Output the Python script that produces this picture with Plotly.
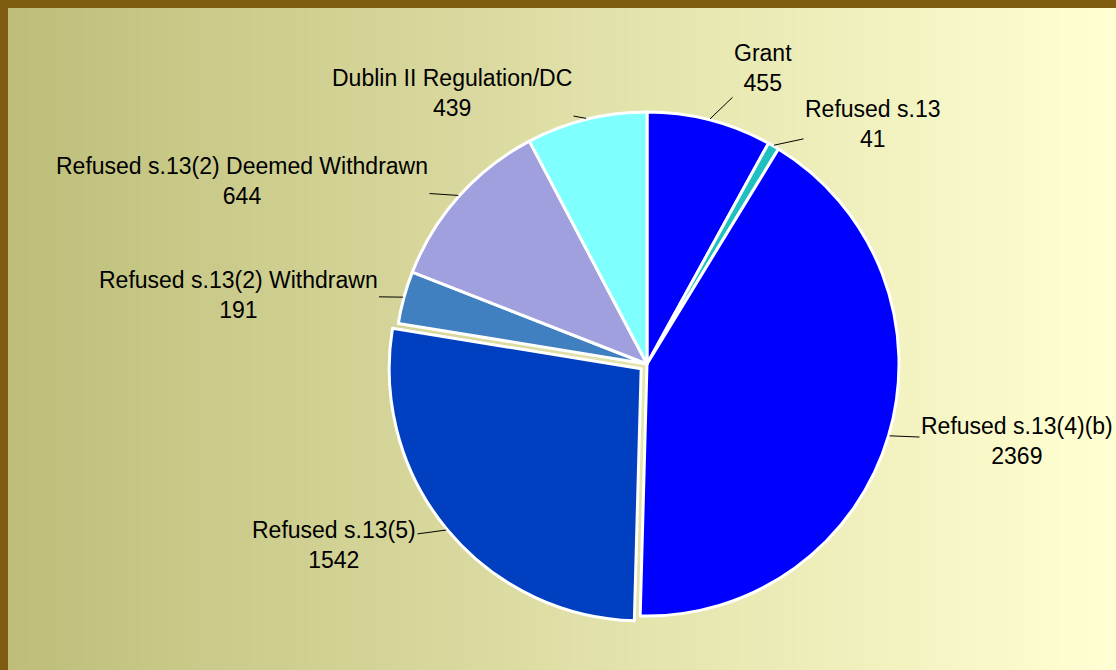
import math
import plotly.graph_objects as go

labels = [
    "Grant",
    "Refused s.13",
    "Refused s.13(4)(b)",
    "Refused s.13(5)",
    "Refused s.13(2) Withdrawn",
    "Refused s.13(2) Deemed Withdrawn",
    "Dublin II Regulation/DC",
]
values = [455, 41, 2369, 1542, 191, 644, 439]
colors = ["#0000FF", "#20C0C0", "#0000FF", "#0040C0", "#4080C0", "#A0A0DF", "#80FFFF"]
pulls = [0, 0, 0, 0.03, 0, 0, 0]

# where each label's text block sits (pixels from top-left)
label_pos = [
    (763, 68),
    (873, 124),
    (1017, 441),
    (334, 545),
    (238, 295),
    (242, 181),
    (452, 93),
]

W, H = 1116, 670
cx, cy, r = 647, 364, 252
half = r * (1 + max(pulls))

fig = go.Figure()

fig.add_trace(
    go.Pie(
        labels=labels,
        values=values,
        sort=False,
        direction="clockwise",
        rotation=0,
        pull=pulls,
        marker=dict(colors=colors, line=dict(color="white", width=3)),
        textinfo="none",
        showlegend=False,
        automargin=False,
        hoverinfo="label+value+percent",
        domain=dict(x=[(cx - half) / W, (cx + half) / W],
                    y=[1 - (cy + half) / H, 1 - (cy - half) / H]),
    )
)

# labels with leader lines pointing at each slice's middle
total = sum(values)
acc = 0
annotations = []
for lab, val, p, (lx, ly) in zip(labels, values, pulls, label_pos):
    mid = (acc + val / 2) / total * 2 * math.pi
    acc += val
    rr = r * (1 + p) + 1
    px = cx + rr * math.sin(mid)
    py = cy - rr * math.cos(mid)
    annotations.append(dict(
        x=px / W, y=1 - py / H, xref="paper", yref="paper",
        text="%s<br>%d" % (lab, val),
        showarrow=True, arrowhead=0, arrowwidth=1, arrowcolor="black",
        ax=lx - px, ay=ly - py, standoff=0,
        font=dict(family="Liberation Sans, Arial", size=23, color="black"),
        align="center",
    ))

# horizontal gradient background, olive to pale yellow
shapes = []
n = 80
c0 = (190, 190, 122)
c1 = (255, 255, 210)
for i in range(n):
    t = i / (n - 1)
    col = "rgb(%d,%d,%d)" % tuple(round(a + (b - a) * t) for a, b in zip(c0, c1))
    shapes.append(dict(
        type="rect", xref="paper", yref="paper",
        x0=i / n, x1=(i + 1) / n + 0.001, y0=0, y1=1,
        fillcolor=col, line=dict(width=0), layer="below",
    ))

# brown frame on top and left
shapes.append(dict(type="rect", xref="paper", yref="paper",
                   x0=0, x1=1, y0=1 - 8 / H, y1=1,
                   fillcolor="#805C10", line=dict(width=0), layer="below"))
shapes.append(dict(type="rect", xref="paper", yref="paper",
                   x0=0, x1=8 / W, y0=0, y1=1,
                   fillcolor="#805C10", line=dict(width=0), layer="below"))

fig.update_layout(
    width=W,
    height=H,
    margin=dict(l=0, r=0, t=0, b=0, pad=0),
    paper_bgcolor="#E0E0A8",
    plot_bgcolor="rgba(0,0,0,0)",
    shapes=shapes,
    annotations=annotations,
    font=dict(family="Liberation Sans, Arial", size=23, color="black"),
)

# drop the browser's default body margin so the figure sits at the corner
fig.write_html("out.html", config={"displayModeBar": False},
               post_script="document.body.style.margin='0';")
